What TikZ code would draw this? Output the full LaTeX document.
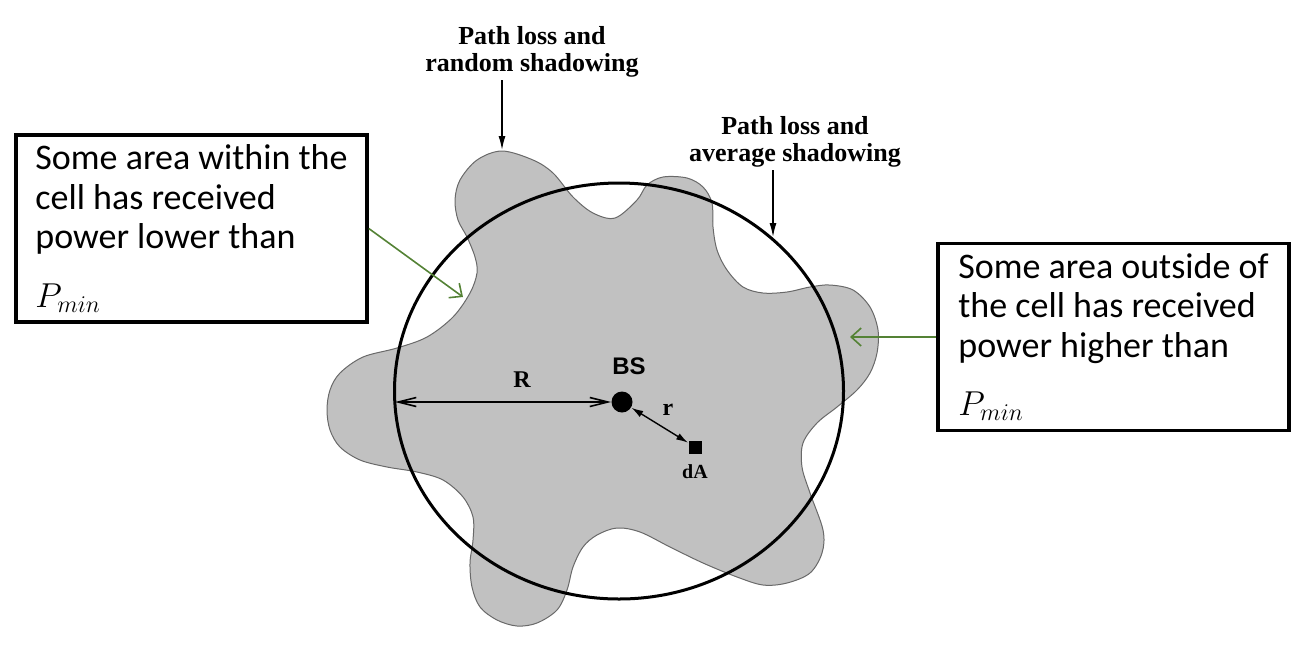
\documentclass[tikz,border=0pt]{standalone}
\usepackage{fontspec}
\setmainfont{Liberation Serif}
\newfontfamily\calibfont{Carlito}
\newfontfamily\arialfont{Liberation Sans}
\usetikzlibrary{arrows.meta}
\definecolor{shade}{RGB}{193,193,193}
\definecolor{rim}{RGB}{105,105,105}
\definecolor{pointer}{RGB}{84,130,53}

\begin{document}
\begin{tikzpicture}[x=0.5pt, y=-0.5pt,
		note/.style={draw, line width=1.8pt, minimum width=175.5pt, minimum height=93.5pt,
			inner xsep=8pt, inner ysep=3pt, align=left,
			font=\calibfont\fontsize{18}{19.7}\selectfont},
		caption/.style={font=\bfseries\fontsize{13}{13.5}\selectfont, align=center, inner sep=1pt},
		lbl/.style={font=\bfseries\fontsize{12}{12}\selectfont, inner sep=0pt},
		tag/.style={-{Latex[length=7pt,width=3.5pt]}, line width=0.7pt},
		hint/.style={-{Straight Barb[length=5pt,width=9pt]}, pointer, line width=0.8pt},
		dim/.style={{Straight Barb[length=9pt,width=4.5pt]}-{Straight Barb[length=9pt,width=4.5pt]}, line width=0.8pt},
		sub/.style={{Latex[length=6pt,width=3.5pt]}-{Latex[length=6pt,width=3.5pt]}, line width=0.7pt}]
	\useasboundingbox (0,0) rectangle (1310,654);
	% received area with random shadowing
	\filldraw[fill=shade, draw=rim, line width=0.5pt] plot[smooth cycle, tension=0.55] coordinates {
		(502,151) (533,160) (553,173) (573,197) (593,213) (615,218) (637,200) (647,185)
		(663,177) (687,178) (703,187) (712,203) (713,227) (717,250) (727,270) (743,287)
		(763,293) (787,292) (810,287) (830,285) (853,290) (870,307) (878,330) (877,353)
		(870,373) (857,390) (837,407) (817,423) (803,443) (802,467) (810,493) (823,530)
		(822,553) (810,573) (787,583) (763,585) (737,577) (703,563) (670,547) (640,532)
		(617,528) (597,535) (583,547) (573,567) (567,590) (557,610) (537,623) (517,626)
		(497,620) (480,607) (472,587) (470,563) (473,540) (473,517) (463,497) (443,480)
		(417,472) (387,467) (360,460) (340,447) (330,430) (327,410) (330,390) (340,373)
		(363,357) (397,348) (427,337) (453,317) (470,293) (477,273) (475,257) (467,237)
		(458,220) (455,200) (460,180) (477,160)};
	% cell edge (average shadowing)
	\draw[line width=1.5pt] (619,391) ellipse [x radius=112.25pt, y radius=104pt];

	\node[fill, circle, minimum size=10.5pt, inner sep=0pt] (bs) at (622,402) {};
	\node[fill, minimum size=6.5pt, inner sep=0pt] (da) at (695,447) {};
	\node[lbl, font=\arialfont\bfseries\fontsize{12}{12}\selectfont] (bslbl) at (629,366) {BS};
	\node[lbl] (bigr) at (522,380) {R};
	\node[lbl] (smallr) at (668,410) {r};
	\node[lbl, font=\bfseries\fontsize{10}{10}\selectfont] (dalbl) at (695,472) {dA};
	\coordinate (redge) at (395,402);
	\draw[dim] (redge) -- (bs);
	\draw[sub] (bs) -- (da);

	\node[caption, anchor=south] (rand) at (532,80) {Path loss and\\random shadowing};
	\coordinate (randtip) at (502,150);
	\draw[tag] (rand.south -| randtip) -- (randtip);
	\node[caption, anchor=south] (avg) at (795,170) {Path loss and\\average shadowing};
	\coordinate (avgtip) at (773,237);
	\draw[tag] (avg.south -| avgtip) -- (avgtip);

	\node[note] (inside) at (191.5,228.5)
		{Some area within the\\cell has received\\power lower than\\[9.5pt]$P_{min}$};
	\node[note] (outside) at (1113.5,337)
		{Some area outside of\\the cell has received\\power higher than\\[9.5pt]$P_{min}$};
	\coordinate (intip) at (463,297);
	\coordinate (outtip) at (850,337);
	\draw[hint] (inside.east) -- (intip);
	\draw[hint] (outside.west) -- (outtip);
\end{tikzpicture}
\end{document}
